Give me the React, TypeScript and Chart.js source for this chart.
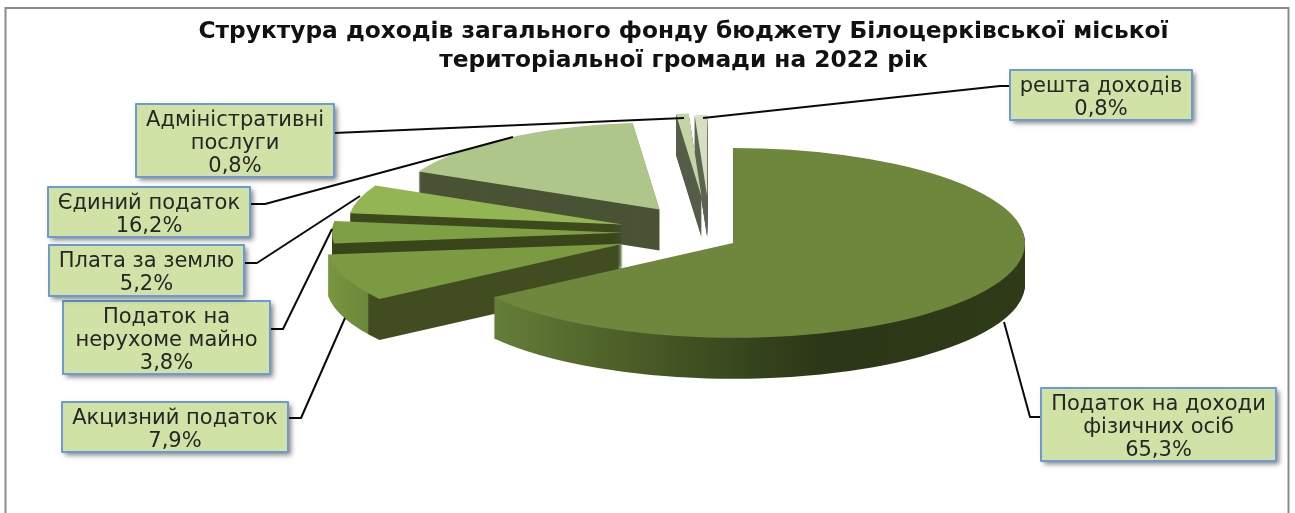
import React, { useEffect, useRef } from "react";
import { Chart, registerables } from "chart.js";

Chart.register(...registerables);

// ---- data ----
const titleLines = [
  "Структура доходів загального фонду бюджету Білоцерківської міської",
  "територіальної громади на 2022 рік",
];
const categories = [
  "Податок на доходи фізичних осіб",
  "Акцизний податок",
  "Податок на нерухоме майно",
  "Плата за землю",
  "Єдиний податок",
  "Адміністративні послуги",
  "решта доходів",
];
const shares = [65.3, 7.9, 3.8, 5.2, 16.2, 0.8, 0.8];
const labelLines = [
  ["Податок на доходи", "фізичних осіб"],
  ["Акцизний податок"],
  ["Податок на", "нерухоме майно"],
  ["Плата за землю"],
  ["Єдиний податок"],
  ["Адміністративні", "послуги"],
  ["решта доходів"],
];

// ---- styles ----
const topColors = ["#6e873d", "#7b9a42", "#7f9f45", "#94b553", "#afc68a", "#c3d5a4", "#d5e0c2"];
const wallColors = ["#35431c", "#414d21", "#3a451c", "#3d4a1d", "#4a5335", "#565e4a", "#5e6652"];

// ---- layout ----
const W = 1295;
const H = 513;
const CENTER_X = 710;
const CENTER_Y = 233;
const SQUASH = 0.325;
const DEPTH = 41;
const explode = [26, 93, 87, 91, 88, 113, 113];
const sliceRadius = [292, 297, 291, 275, 268, 255, 250];
const sliceDrop = [6, 0, 0, 0, 0, 0, 0];
const wallOrder = [5, 6, 4, 3, 2, 1, 0];

const boxes = [
  [1041, 388, 235, 73],
  [62, 402, 226, 50],
  [63, 301, 207, 73],
  [49, 245, 195, 51],
  [48, 187, 202, 50],
  [136, 104, 198, 73],
  [1010, 70, 182, 50],
];
const leaders = [
  [[1041, 417], [1030, 417], [1004, 322]],
  [[288, 418], [301, 418], [345, 318]],
  [[270, 329], [283, 329], [332, 229]],
  [[244, 263], [257, 263], [360, 196]],
  [[250, 204], [265, 204], [513, 137]],
  [[334, 133], [684, 118]],
  [[1010, 86], [1000, 86], [703, 118]],
];
const LABEL_FONT = '21px "DejaVu Sans"';

const formatShare = (v: number) => v.toFixed(1).replace(".", ",") + "%";

const piePlugin = {
  id: "tiltedPie",
  beforeDraw(chart: any) {
    const { ctx } = chart;
    ctx.save();
    ctx.fillStyle = "#ffffff";
    ctx.fillRect(0, 0, W, H);
    ctx.strokeStyle = "#8c8c8c";
    ctx.lineWidth = 2;
    ctx.strokeRect(5.5, 8, 1283, H + 20);
    ctx.restore();
  },
  afterDatasetsUpdate(chart: any) {
    const arcs = chart.getDatasetMeta(0).data;
    arcs.forEach((arc: any, i: number) => {
      const mid = (arc.startAngle + arc.endAngle) / 2;
      arc.x += Math.cos(mid) * explode[i];
      arc.y += Math.sin(mid) * explode[i] + sliceDrop[i] / SQUASH;
      arc.outerRadius = sliceRadius[i];
    });
  },
  beforeDatasetsDraw(chart: any) {
    const { ctx, chartArea } = chart;
    const c0x = (chartArea.left + chartArea.right) / 2;
    const c0y = (chartArea.top + chartArea.bottom) / 2;
    const panX = CENTER_X - c0x;
    ctx.save();
    ctx.translate(CENTER_X, CENTER_Y);
    ctx.scale(1, SQUASH);
    ctx.translate(-c0x, -c0y);

    const bigWall = ctx.createLinearGradient(488 - panX, 0, 1025 - panX, 0);
    bigWall.addColorStop(0, "#667f3a");
    bigWall.addColorStop(0.22, "#4f6329");
    bigWall.addColorStop(0.5, "#35431c");
    bigWall.addColorStop(0.62, "#2c3717");
    bigWall.addColorStop(1, "#2e3a18");
    const exciseWall = ctx.createLinearGradient(330 - panX, 0, 640 - panX, 0);
    exciseWall.addColorStop(0, "#78953f");
    exciseWall.addColorStop(0.122, "#6c873a");
    exciseWall.addColorStop(0.125, "#414d21");
    exciseWall.addColorStop(1, "#414d21");

    const arcs = chart.getDatasetMeta(0).data;
    wallOrder.forEach((i) => {
      const arc = arcs[i];
      const original = arc.options;
      const fill = i === 0 ? bigWall : i === 1 ? exciseWall : wallColors[i];
      arc.options = { ...original, backgroundColor: fill };
      for (let d = DEPTH; d >= 1; d -= 1) {
        ctx.save();
        ctx.translate(0, d / SQUASH);
        arc.draw(ctx);
        ctx.restore();
      }
      arc.options = original;
    });
  },
  afterDatasetsDraw(chart: any) {
    const { ctx } = chart;
    ctx.restore();
    ctx.save();
    ctx.strokeStyle = "#0a0a0a";
    ctx.lineWidth = 2;
    ctx.lineJoin = "round";
    leaders.forEach((points) => {
      ctx.beginPath();
      points.forEach(([x, y], k) => (k === 0 ? ctx.moveTo(x, y) : ctx.lineTo(x, y)));
      ctx.stroke();
    });
    boxes.forEach(([x, y, w, h], i) => {
      ctx.save();
      ctx.shadowColor = "rgba(0,0,0,0.5)";
      ctx.shadowBlur = 5;
      ctx.shadowOffsetX = 3;
      ctx.shadowOffsetY = 3;
      ctx.fillStyle = "#d1e2a6";
      ctx.fillRect(x, y, w, h);
      ctx.restore();
      ctx.strokeStyle = "#6b9bd2";
      ctx.lineWidth = 2;
      ctx.strokeRect(x, y, w, h);
      const lines = [...labelLines[i], formatShare(shares[i])];
      ctx.fillStyle = "#262626";
      ctx.font = LABEL_FONT;
      ctx.textAlign = "center";
      ctx.textBaseline = "middle";
      const lh = 23;
      const y0 = y + h / 2 - ((lines.length - 1) * lh) / 2 + 3;
      lines.forEach((t, k) => ctx.fillText(t, x + w / 2, y0 + k * lh));
    });
    ctx.restore();
  },
};

export default function App() {
  const ref = useRef<HTMLCanvasElement>(null);
  useEffect(() => {
    const chart = new Chart(ref.current as HTMLCanvasElement, {
      type: "pie",
      data: {
        labels: categories,
        datasets: [
          {
            data: shares,
            backgroundColor: topColors,
            borderWidth: 0,
            clip: false,
            radius: 292,
          } as any,
        ],
      },
      options: {
        responsive: false,
        animation: false,
        layout: { padding: { left: 72, top: 12 } },
        plugins: {
          legend: { display: false },
          tooltip: { enabled: false },
          title: {
            display: true,
            text: titleLines,
            color: "#111111",
            font: { family: '"DejaVu Sans"', size: 23.3, weight: "bold", lineHeight: 1.22 },
            padding: { top: 6, bottom: 0 },
          },
        },
      },
      plugins: [piePlugin],
    } as any);
    return () => chart.destroy();
  }, []);
  return (
    <div style={{ position: "absolute", left: 0, top: 0, width: W, height: H, overflow: "hidden" }}>
      <canvas ref={ref} width={W} height={H} style={{ display: "block" }} />
    </div>
  );
}
